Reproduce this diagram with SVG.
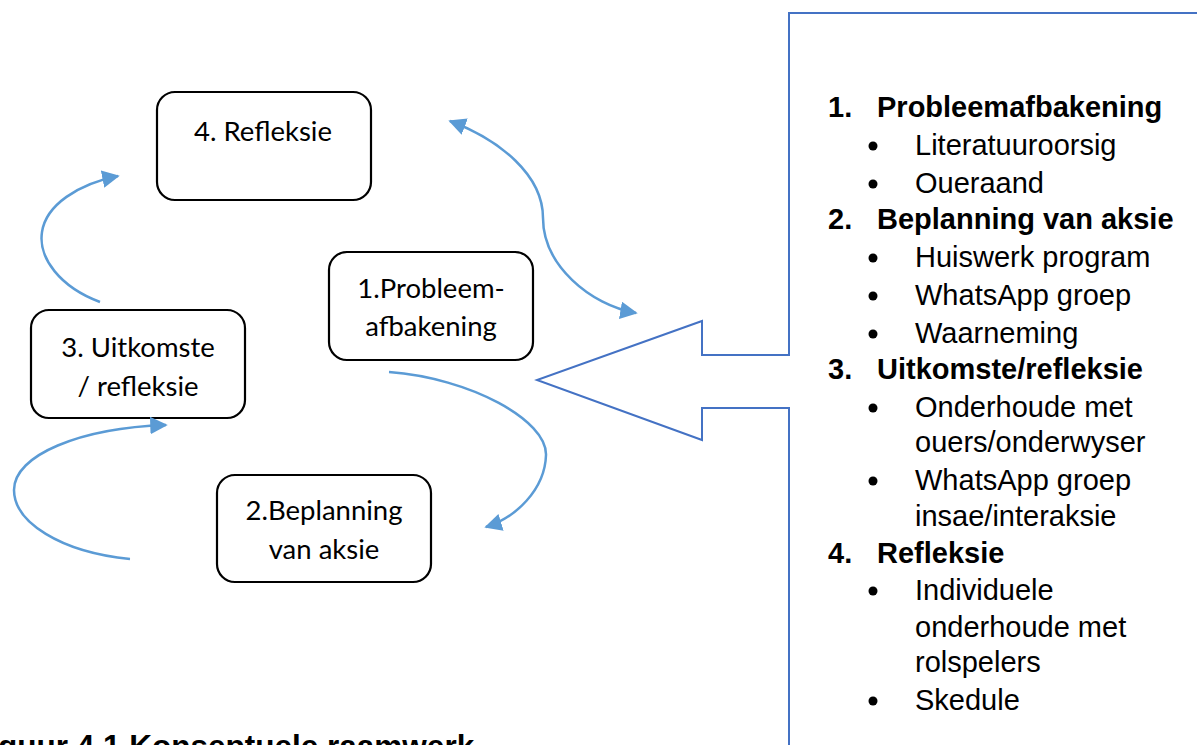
<svg xmlns="http://www.w3.org/2000/svg" width="1197" height="745" viewBox="0 0 1197 745">
<style>
.node rect{fill:#fff;stroke:#000;stroke-width:2.2}
.nt{font-family:Lato,"Open Sans",sans-serif;font-size:27.5px;fill:#000;text-anchor:middle}
.conn path{fill:none;stroke:#5B9BD5;stroke-width:2.5}
.call{fill:none;stroke:#4472C4;stroke-width:2}
.h{font-family:"Liberation Sans",Arial,sans-serif;font-size:29px;font-weight:bold;fill:#000}
.t{font-family:"Liberation Sans",Arial,sans-serif;font-size:29px;fill:#000}
.b{fill:#000}
.cap{font-family:"Liberation Sans",Arial,sans-serif;font-size:31.5px;font-weight:bold;fill:#000}
</style>
<defs>
<marker id="ah" viewBox="0 0 10 10" refX="9" refY="5" markerWidth="7" markerHeight="7" markerUnits="strokeWidth" orient="auto-start-reverse">
<path d="M0,0 L10,5 L0,10 z" fill="#5B9BD5"/>
</marker>
</defs>
<rect width="1197" height="745" fill="#fff"/>

<g id="callout">
<path class="call" d="M1199,13 L789,13 L789,355 L702,355 L702,321 L537,380 L702,440 L702,408 L789,408 L789,747"/>
<g id="list">
<text class="h" x="828" y="117">1.</text><text class="h" x="877" y="117">Probleemafbakening</text>
<circle class="b" cx="873" cy="146" r="4.5"/><text class="t" x="915" y="155">Literatuuroorsig</text>
<circle class="b" cx="873" cy="184" r="4.5"/><text class="t" x="915" y="193">Oueraand</text>
<text class="h" x="828" y="229">2.</text><text class="h" x="877" y="229">Beplanning van aksie</text>
<circle class="b" cx="873" cy="258" r="4.5"/><text class="t" x="915" y="267">Huiswerk program</text>
<circle class="b" cx="873" cy="296" r="4.5"/><text class="t" x="915" y="305">WhatsApp groep</text>
<circle class="b" cx="873" cy="334" r="4.5"/><text class="t" x="915" y="343">Waarneming</text>
<text class="h" x="828" y="379">3.</text><text class="h" x="877" y="379">Uitkomste/refleksie</text>
<circle class="b" cx="873" cy="408" r="4.5"/><text class="t" x="915" y="417">Onderhoude met</text>
<text class="t" x="915" y="452">ouers/onderwyser</text>
<circle class="b" cx="873" cy="481" r="4.5"/><text class="t" x="915" y="490">WhatsApp groep</text>
<text class="t" x="915" y="526">insae/interaksie</text>
<text class="h" x="828" y="563">4.</text><text class="h" x="877" y="563">Refleksie</text>
<circle class="b" cx="873" cy="591" r="4.5"/><text class="t" x="915" y="600">Individuele</text>
<text class="t" x="915" y="637">onderhoude met</text>
<text class="t" x="915" y="672">rolspelers</text>
<circle class="b" cx="873" cy="701" r="4.5"/><text class="t" x="915" y="710">Skedule</text>
</g>
</g>

<g id="n4" class="node">
<rect x="157" y="92" width="214" height="108" rx="18"/>
<text class="nt" x="263" y="141">4. Refleksie</text>
</g>
<g id="n1" class="node">
<rect x="329" y="252" width="204" height="108" rx="18"/>
<text class="nt" x="431" y="298">1.Probleem-</text>
<text class="nt" x="431" y="336">afbakening</text>
</g>
<g id="n3" class="node">
<rect x="31" y="310" width="214" height="108" rx="18"/>
<text class="nt" x="138" y="357">3. Uitkomste</text>
<text class="nt" x="138" y="396">/ refleksie</text>
</g>
<g id="n2" class="node">
<rect x="217" y="475" width="214" height="107" rx="18"/>
<text class="nt" x="324" y="520">2.Beplanning</text>
<text class="nt" x="324" y="559">van aksie</text>
</g>

<g id="connectors" class="conn">
<path d="M100,302 C60,287 38,258 42,232 C46,205 78,184 118,176" marker-end="url(#ah)"/>
<path d="M130,559 C60,552 14,522 14,490 C14,455 80,428 166,425" marker-end="url(#ah)"/>
<path d="M389,372 C470,378 547,420 546,455 C545,490 515,518 486,527" marker-end="url(#ah)"/>
<path d="M450,121 C500,140 543,175 543,218 C543,265 590,305 636,313" marker-start="url(#ah)" marker-end="url(#ah)"/>
</g>

<text class="cap" x="-2" y="757">guur 4.1 Konseptuele raamwerk</text>
</svg>
